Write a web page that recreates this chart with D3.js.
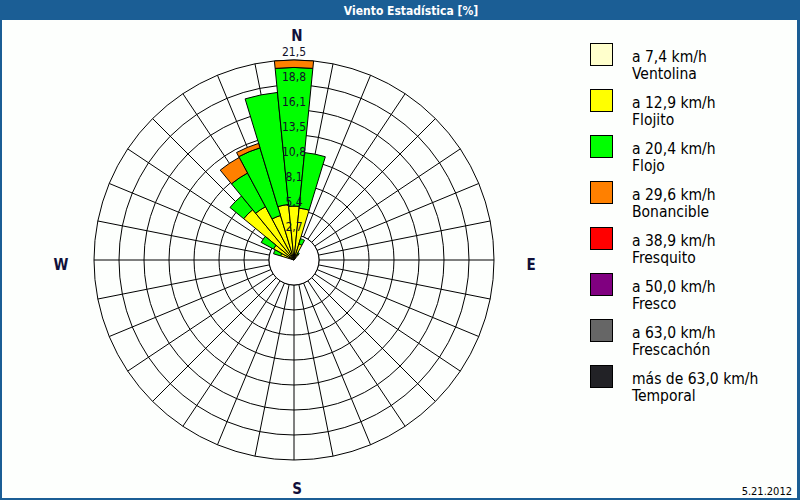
<!DOCTYPE html>
<html><head><meta charset="utf-8">
<script src="https://cdn.jsdelivr.net/npm/d3@7"></script>
<style>body{margin:0;background:#fff}svg{display:block}</style>
</head><body>
<svg id="c" width="800" height="500"></svg>
<script>
// ---- data ----
const directions = [-67.5, -56.25, -45, -33.75, -22.5, -11.25, 0, 11.25, 22.5, 33.75];
const ventolina  = [0.2, 0.2, 0.2, 0.2, 0.2, 0.2, 0.2, 0.2, 0.2, 0.1];
const flojito    = [1.3, 2.3, 6.8, 6.3, 4.8, 5.8, 5.6, 5.4, 1.6, 0.6];
const flojo      = [0.8, 1.5, 1.9, 4.1, 7.6, 12.1, 14.9, 6.0, 0.6, 0.2];
const bonancible = [0, 0, 0, 1.9, 0.5, 0, 0.8, 0, 0, 0];
const fresquito  = [0, 0, 0, 0, 0, 0, 0, 0, 0, 0];
const fresco     = [0, 0, 0, 0, 0, 0, 0, 0, 0, 0];
const frescachon = [0, 0, 0, 0, 0, 0, 0, 0, 0, 0];
const temporal   = [0, 0, 0, 0, 0, 0, 0, 0, 0, 0];
const classNames = ["a 7,4 km/h|Ventolina","a 12,9 km/h|Flojito","a 20,4 km/h|Flojo","a 29,6 km/h|Bonancible","a 38,9 km/h|Fresquito","a 50,0 km/h|Fresco","a 63,0 km/h|Frescachón","más de 63,0 km/h|Temporal"];
const classColors = ["#ffffcc","#ffff00","#00ff00","#ff8000","#ff0000","#800080","#666666","#222226"];
const ringLabels = ["2,7","5,4","8,1","10,8","13,5","16,1","18,8","21,5"];
const ringMax = 21.5;
const compass = ["N","E","S","W"];
const title = "Viento Estadística [%]";
const dateText = "5.21.2012";

// ---- drawing ----
const svg = d3.select("#c");
const W = 800, H = 500, cx = 294, cy = 260, R = 200, hole = 25;
const font = "'DejaVu Sans Condensed','DejaVu Sans',sans-serif";

svg.append("rect").attr("width", W).attr("height", H).attr("fill", "#1b5e95");
svg.append("rect").attr("x", 2).attr("y", 20).attr("width", W - 5).attr("height", H - 22).attr("fill", "#fdfffd");
svg.append("text").attr("x", 411).attr("y", 14.5).attr("text-anchor", "middle")
  .attr("fill", "#fff").attr("font-family", font).attr("font-size", 12).attr("font-weight", "bold").text(title);

const r = d3.scaleLinear().domain([0, ringMax]).range([0, R]);
const g = svg.append("g").attr("transform", `translate(${cx},${cy})`);
const step = ringMax / ringLabels.length;
const ringVals = ringLabels.map((d, i) => (i + 1) * step);

// grid spokes
const spokeAngles = d3.range(0, 360, 11.25);
g.selectAll("line.sp").data(spokeAngles).join("line")
  .attr("x1", d => hole * Math.sin(d * Math.PI / 180)).attr("y1", d => -hole * Math.cos(d * Math.PI / 180))
  .attr("x2", d => R * Math.sin(d * Math.PI / 180)).attr("y2", d => -R * Math.cos(d * Math.PI / 180))
  .attr("stroke", "#000").attr("stroke-width", 1);
g.selectAll("circle.ring").data(ringVals).join("circle")
  .attr("r", d => r(d)).attr("fill", "none").attr("stroke", "#000").attr("stroke-width", 1);
g.append("circle").attr("r", hole).attr("fill", "#fff").attr("stroke", "#000");

// bars
const rows = directions.map((d, i) => ({dir: d, c0: ventolina[i], c1: flojito[i], c2: flojo[i], c3: bonancible[i], c4: fresquito[i], c5: fresco[i], c6: frescachon[i], c7: temporal[i]}));
const keys = ["c0","c1","c2","c3","c4","c5","c6","c7"];
const stacked = d3.stack().keys(keys)(rows);
const half = 11.25 / 2 * Math.PI / 180;
const arc = d3.arc();
stacked.forEach((layer, k) => {
  g.selectAll("path.l" + k).data(layer.filter(d => d[1] - d[0] > 0)).join("path")
    .attr("d", d => arc({innerRadius: r(d[0]), outerRadius: r(d[1]),
      startAngle: d.data.dir * Math.PI / 180 - half, endAngle: d.data.dir * Math.PI / 180 + half}))
    .attr("fill", classColors[k]).attr("stroke", "#000").attr("stroke-width", 1);
});

// ring labels
g.selectAll("text.rl").data(ringVals).join("text")
  .attr("x", 0).attr("y", d => -r(d) - 4).attr("text-anchor", "middle")
  .attr("font-family", font).attr("font-size", 12).attr("fill", "#101028").text((d, i) => ringLabels[i]);

// compass labels
const cpos = [[297, 41], [531, 270], [297, 494], [61, 270]];
compass.forEach((t, i) => {
  svg.append("text").attr("x", cpos[i][0]).attr("y", cpos[i][1]).attr("text-anchor", "middle")
    .attr("font-family", font).attr("font-size", 15).attr("font-weight", "bold").attr("fill", "#10103a").text(t);
});

// legend
const lg = svg.append("g");
classNames.forEach((n, i) => {
  const y0 = 43 + i * 46;
  lg.append("rect").attr("x", 590.5).attr("y", y0 + 0.5).attr("width", 22).attr("height", 22)
    .attr("fill", classColors[i]).attr("stroke", "#000");
  const parts = n.split("|");
  lg.append("text").attr("x", 632).attr("y", y0 + 19).attr("font-family", font).attr("font-size", 15.5).attr("fill", "#000").text(parts[0]);
  lg.append("text").attr("x", 632).attr("y", y0 + 36).attr("font-family", font).attr("font-size", 15.5).attr("fill", "#000").text(parts[1]);
});
svg.append("text").attr("x", 792).attr("y", 495).attr("text-anchor", "end")
  .attr("font-family", font).attr("font-size", 11).attr("fill", "#000").text(dateText);
</script>
</body></html>
